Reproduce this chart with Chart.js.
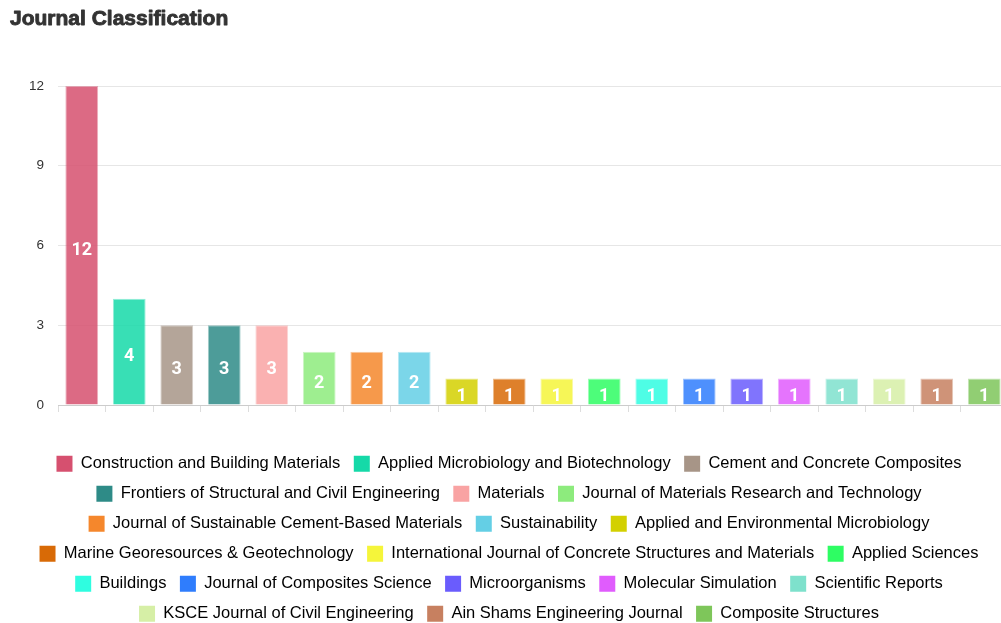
<!DOCTYPE html>
<html>
<head>
<meta charset="utf-8">
<title>Journal Classification</title>
<script src="https://cdn.jsdelivr.net/npm/chart.js@4.4.1/dist/chart.umd.min.js"></script>
<style>
  html, body { margin: 0; padding: 0; background: #fff; overflow: hidden; }
  #myChart { display: block; }
</style>
</head>
<body>
<canvas id="myChart" width="1020" height="632"></canvas>
<script>
// journals (categories), article counts, colours
const journals = [
    'Construction and Building Materials',
    'Applied Microbiology and Biotechnology',
    'Cement and Concrete Composites',
    'Frontiers of Structural and Civil Engineering',
    'Materials',
    'Journal of Materials Research and Technology',
    'Journal of Sustainable Cement-Based Materials',
    'Sustainability',
    'Applied and Environmental Microbiology',
    'Marine Georesources & Geotechnology',
    'International Journal of Concrete Structures and Materials',
    'Applied Sciences',
    'Buildings',
    'Journal of Composites Science',
    'Microorganisms',
    'Molecular Simulation',
    'Scientific Reports',
    'KSCE Journal of Civil Engineering',
    'Ain Shams Engineering Journal',
    'Composite Structures'
];
const counts = [12, 4, 3, 3, 3, 2, 2, 2, 1, 1, 1, 1, 1, 1, 1, 1, 1, 1, 1, 1];
const colors = [
    '#d6506f', '#15d9a8', '#a79587', '#2e8b87', '#f9a3a3',
    '#8deb7d', '#f5872c', '#64cfe5', '#d3d000', '#d86a06',
    '#f5f53a', '#2efd63', '#2ffde0', '#2f7dfd', '#6a5cfd',
    '#e05cfd', '#7ee1cc', '#d6efa6', '#c78060', '#7ec65a'
];
const yTickValues = [0, 3, 6, 9, 12];

const titleText = 'Journal Classification';
const titleFont = { family: '"Liberation Sans", Arial, sans-serif', size: 21, weight: 'bold' };

const withAlpha = (hex, a) => {
    const n = parseInt(hex.slice(1), 16);
    return `rgba(${(n >> 16) & 255}, ${(n >> 8) & 255}, ${n & 255}, ${a})`;
};

// white value labels in the middle of each bar, and a heavier title
const barLabels = {
    id: 'barLabels',
    afterDatasetsDraw(chart) {
        const ctx = chart.ctx;
        const area = chart.chartArea;
        const meta = chart.getDatasetMeta(0);
        ctx.save();
        ctx.beginPath();
        ctx.rect(area.left, area.top, area.right - area.left, area.bottom - area.top);
        ctx.clip();
        ctx.fillStyle = '#ffffff';
        ctx.font = 'bold 18px Roboto, "Liberation Sans", sans-serif';
        ctx.textAlign = 'center';
        ctx.textBaseline = 'middle';
        meta.data.forEach((bar, i) => {
            const y = (bar.y + bar.base) / 2 + 5;
            ctx.fillText(String(counts[i]), bar.x, y);
        });
        ctx.restore();
    },
    afterDraw(chart) {
        const tb = chart.titleBlock;
        if (!tb) return;
        const ctx = chart.ctx;
        const pad = tb.options.padding;
        const lineHeight = titleFont.size * 1.2;
        ctx.save();
        ctx.font = `bold ${titleFont.size}px ${titleFont.family}`;
        ctx.textAlign = 'left';
        ctx.textBaseline = 'middle';
        ctx.strokeStyle = '#333333';
        ctx.lineWidth = 0.9;
        ctx.lineJoin = 'round';
        ctx.strokeText(titleText, tb.left, tb.top + pad.top + lineHeight / 2);
        ctx.restore();
    }
};

const ctx = document.querySelector('#myChart').getContext('2d');

new Chart(ctx, {
    type: 'bar',
    data: {
        labels: journals,
        datasets: [
            {
                label: titleText,
                data: counts,
                backgroundColor: colors.map(c => withAlpha(c, 0.85)),
                borderColor: colors.map(c => withAlpha(c, 0.45)),
                borderWidth: 1,
                categoryPercentage: 1,
                barPercentage: 0.69
            }
        ]
    },
    options: {
        responsive: false,
        animation: false,
        layout: { padding: { left: 10, right: 12, top: 0, bottom: 0 } },
        scales: {
            x: {
                ticks: { display: false },
                grid: {
                    offset: true,
                    drawOnChartArea: false,
                    tickLength: 7,
                    color: '#dddddd'
                },
                border: { color: '#cccccc' },
                afterFit(scale) { scale.height = 37; }
            },
            y: {
                min: 0,
                max: 12,
                afterBuildTicks(scale) {
                    scale.ticks = yTickValues.map(v => ({ value: v }));
                },
                ticks: {
                    padding: 14,
                    color: '#333333',
                    font: { family: '"Liberation Sans", Arial, sans-serif', size: 13.5 }
                },
                grid: { color: '#e6e6e6', drawTicks: false },
                border: { display: false },
                afterFit(scale) { scale.width = 48; }
            }
        },
        plugins: {
            title: {
                display: true,
                text: titleText,
                align: 'start',
                color: '#333333',
                font: titleFont,
                padding: { top: 7, bottom: 53.8 }
            },
            legend: {
                position: 'bottom',
                labels: {
                    boxWidth: 16,
                    boxHeight: 16,
                    padding: 13.5,
                    useBorderRadius: true,
                    borderRadius: 3,
                    color: '#4a4f55',
                    font: { family: '"Liberation Sans", Arial, sans-serif', size: 16.5 },
                    generateLabels() {
                        return journals.map((name, i) => ({
                            text: name,
                            fillStyle: colors[i],
                            strokeStyle: colors[i],
                            lineWidth: 0,
                            hidden: false,
                            index: i
                        }));
                    }
                },
                onClick() {}
            },
            tooltip: { enabled: false }
        }
    },
    plugins: [barLabels]
});
</script>
</body>
</html>
